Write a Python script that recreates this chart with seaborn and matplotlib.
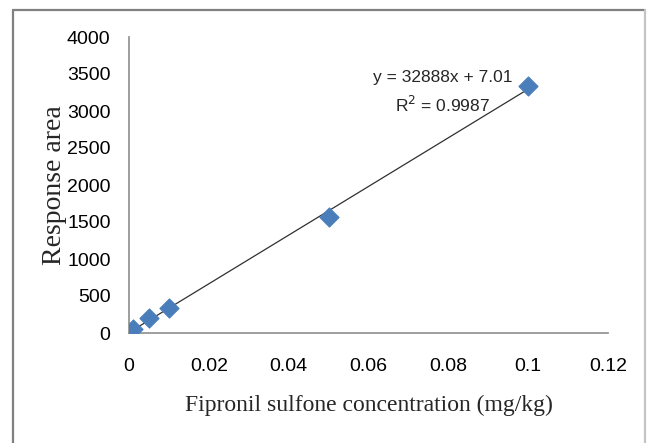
import matplotlib
matplotlib.use("Agg")
import matplotlib.pyplot as plt
import seaborn as sns
import numpy as np
import pandas as pd
from matplotlib.lines import Line2D

concentration = [0.001, 0.005, 0.01, 0.05, 0.1]
response = [60, 200, 340, 1570, 3340]
slope = 32888
intercept = 7.01
x_ticks = [0, 0.02, 0.04, 0.06, 0.08, 0.1, 0.12]
x_tick_labels = ["0", "0.02", "0.04", "0.06", "0.08", "0.1", "0.12"]
y_ticks = [0, 500, 1000, 1500, 2000, 2500, 3000, 3500, 4000]

sns.set_style("white")
plt.rcParams['font.family'] = ['Liberation Sans', 'DejaVu Sans']

df = pd.DataFrame({"conc": concentration, "resp": response})
fig = plt.figure(figsize=(6.47, 4.43), dpi=100)
ax = fig.add_axes([129/647, 1-333/443, (608-129)/647, (333-37)/443])

xs = np.array([min(concentration), max(concentration)])
sns.lineplot(x=xs, y=slope*xs + intercept, ax=ax, color="#303030", linewidth=0.9, zorder=2)
sns.scatterplot(data=df, x="conc", y="resp", ax=ax, marker="D", s=95,
                color="#4a7ebb", edgecolor="#4a7ebb", zorder=3)

ax.set_xlim(0, 0.12)
ax.set_ylim(0, 4000)
ax.set_xticks(x_ticks)
ax.set_xticklabels(x_tick_labels)
ax.set_yticks(y_ticks)
for s in ["top", "right"]:
    ax.spines[s].set_visible(False)
for s in ["left", "bottom"]:
    ax.spines[s].set_color("#969696")
    ax.spines[s].set_linewidth(1.3)
ax.tick_params(axis="both", direction="out", width=1.3, color="#969696",
               labelsize=14, labelcolor="black")
ax.tick_params(axis="x", length=5, pad=13)
ax.tick_params(axis="y", length=4.3, pad=9)

ax.set_xlabel("Fipronil sulfone concentration (mg/kg)", family="Liberation Serif",
              fontsize=17, labelpad=14)
ax.set_ylabel("Response area", family="Liberation Serif", fontsize=20, labelpad=0)

ax.text(0.0785, 3250, "y = 32888x + 7.01\nR$^2$ = 0.9987", ha="center", va="center",
        fontsize=12.5, linespacing=1.6)

# chart-area frame (top, left darker; right lighter)
fig.add_artist(Line2D([13/647, 13/647], [0, 1-10/443], transform=fig.transFigure,
                      color="#808080", linewidth=1.6))
fig.add_artist(Line2D([13/647, 645/647], [1-10/443, 1-10/443], transform=fig.transFigure,
                      color="#808080", linewidth=1.6))
fig.add_artist(Line2D([645/647, 645/647], [0, 1-10/443], transform=fig.transFigure,
                      color="#c4c4c4", linewidth=1.6))

fig.savefig("out.png", dpi=100, facecolor="white")
